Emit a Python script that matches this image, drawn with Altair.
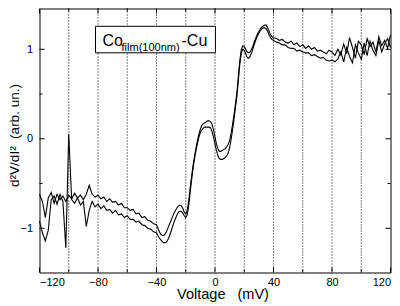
import altair as alt
import pandas as pd

# ---- data ----
x_left = list(range(-120, -40, 2))    # -120 .. -42
x_mid = list(range(-40, 41, 1))       # -40 .. 40
x_right = list(range(42, 121, 2))     # 42 .. 120

upper_left = [-0.62, -0.70, -0.88, -0.66, -0.60, -0.72, -0.62, -0.68, -0.64, -0.70,
              -0.63, -0.67, -0.61, -0.66, -0.63, -0.68, -0.62, -0.52, -0.62, -0.65,
              -0.63, -0.67, -0.65, -0.70, -0.67, -0.71, -0.70, -0.74, -0.72, -0.77,
              -0.77, -0.80, -0.79, -0.84, -0.83, -0.88, -0.87, -0.91, -0.92, -0.95]
lower_left = [-0.92, -1.05, -1.14, -1.02, -0.68, -0.64, -0.73, -0.62, -0.70, -1.22,
              0.05, -0.68, -0.72, -0.66, -0.74, -0.70, -0.98, -0.80, -0.70, -0.76,
              -0.73, -0.78, -0.75, -0.80, -0.79, -0.83, -0.80, -0.85, -0.84, -0.88,
              -0.86, -0.90, -0.90, -0.93, -0.92, -0.96, -0.97, -1.00, -1.01, -1.04]

upper_mid = [-0.96, -1.00, -1.04, -1.07, -1.08, -1.08, -1.06, -1.03, -0.99, -0.95,
             -0.91, -0.87, -0.83, -0.80, -0.77, -0.75, -0.74, -0.75, -0.78, -0.82,
             -0.84, -0.80, -0.70, -0.55, -0.42, -0.30, -0.20, -0.10, -0.02, 0.05,
             0.11, 0.15, 0.17, 0.18, 0.19, 0.20, 0.20, 0.19, 0.16, 0.10,
             0.02, -0.06, -0.11, -0.14, -0.14, -0.13, -0.12, -0.11, -0.09, -0.06,
             -0.02, 0.06, 0.16, 0.27, 0.39, 0.52, 0.70, 0.88, 1.00, 1.04,
             1.03, 1.00, 0.97, 0.96, 0.97, 1.00, 1.04, 1.09, 1.13, 1.17,
             1.20, 1.23, 1.25, 1.26, 1.27, 1.27, 1.24, 1.20, 1.16, 1.14,
             1.13]
lower_mid = [-1.05, -1.08, -1.11, -1.13, -1.15, -1.16, -1.16, -1.15, -1.12, -1.08,
             -1.03, -0.98, -0.93, -0.89, -0.85, -0.82, -0.81, -0.81, -0.83, -0.86,
             -0.88, -0.85, -0.75, -0.60, -0.46, -0.33, -0.22, -0.13, -0.05, 0.02,
             0.07, 0.10, 0.12, 0.13, 0.13, 0.13, 0.13, 0.12, 0.08, 0.02,
             -0.06, -0.13, -0.19, -0.22, -0.23, -0.23, -0.22, -0.21, -0.19, -0.16,
             -0.10, -0.01, 0.10, 0.22, 0.35, 0.48, 0.66, 0.84, 0.96, 1.00,
             0.99, 0.95, 0.91, 0.90, 0.92, 0.96, 1.01, 1.06, 1.11, 1.15,
             1.18, 1.21, 1.23, 1.24, 1.24, 1.23, 1.20, 1.16, 1.13, 1.11,
             1.10]

upper_right = [1.12, 1.10, 1.11, 1.08, 1.07, 1.09, 1.05, 1.07, 1.03, 1.05,
               1.01, 1.04, 1.00, 1.02, 0.98, 0.99, 0.97, 0.95, 0.99, 0.97,
               0.93, 1.00, 0.94, 1.06, 0.95, 1.13, 1.02, 0.90, 1.09, 1.05,
               0.94, 1.12, 1.03, 1.08, 0.97, 1.14, 1.04, 1.10, 1.01, 1.16]
lower_right = [1.08, 1.07, 1.05, 1.05, 1.02, 1.01, 1.01, 0.98, 0.99, 0.97,
               0.96, 0.96, 0.93, 0.94, 0.92, 0.90, 0.91, 0.88, 0.87, 0.88,
               0.86, 0.89, 0.97, 0.86, 1.02, 0.92, 0.85, 1.05, 0.96, 0.89,
               1.07, 0.93, 1.09, 0.99, 0.93, 1.10, 0.97, 1.06, 1.12, 1.02]

x_ticks = [-120, -80, -40, 0, 40, 80, 120]
x_minor = [-100, -60, -20, 20, 60, 100]
grid_x = [-100, -80, -60, -40, -20, 0, 20, 40, 60, 80, 100]
y_ticks = [-1, 0, 1]
y_minor = [-0.5, 0.5]

x_title = "Voltage\u00a0\u00a0\u00a0(mV)"
y_title = "d²V/dI²\u00a0\u00a0(arb. un.)"

# ---- build table ----
voltage = x_left + x_mid + x_right
upper = upper_left + upper_mid + upper_right
lower = lower_left + lower_mid + lower_right
n = len(voltage)
df = pd.DataFrame({
    "V": voltage + voltage,
    "y": upper + lower,
    "series": ["a"] * n + ["b"] * n,
})

W, H = 351, 264
FONT = "Liberation Sans"
xs = alt.Scale(domain=[-120, 120], nice=False, zero=False)
ys = alt.Scale(domain=[-1.494, 1.456], nice=False, zero=False)

x_axis = alt.Axis(
    values=x_ticks, ticks=False, tickSize=0, domain=False, grid=False,
    labelFontSize=11, labelPadding=4, labelColor="black", labelFont=FONT,
    title=x_title, titleFontSize=14.5, titleFontWeight="normal", titleFont=FONT,
    titleColor="black", titleX=183, titleY=25.5, titleBaseline="alphabetic")
y_axis = alt.Axis(
    values=y_ticks, ticks=False, tickSize=0, domain=False, grid=False,
    labelFontSize=11, labelPadding=7, labelColor="black", labelFont=FONT,
    title=y_title, titleFontSize=13.5, titleFontWeight="normal", titleFont=FONT,
    titleColor="black", titleX=-25, titleY=126.5, titleAngle=-90,
    titleBaseline="middle", titleAlign="center")


def X(field):
    return alt.X(field, scale=xs, axis=x_axis)


def Y(field):
    return alt.Y(field, scale=ys, axis=y_axis)


grid = alt.Chart(pd.DataFrame({"g": grid_x})).mark_rule(
    color="black", strokeDash=[1, 2], strokeWidth=1
).encode(x=X("g:Q"))


def yticks(vals, x1, x2):
    return alt.Chart(pd.DataFrame({"t": vals})).mark_rule(color="black", strokeWidth=1).encode(
        y=Y("t:Q"), x=alt.value(x1), x2=alt.value(x2))


def xticks(vals, y1, y2):
    return alt.Chart(pd.DataFrame({"t": vals})).mark_rule(color="black", strokeWidth=1).encode(
        x=X("t:Q"), y=alt.value(y1), y2=alt.value(y2))


ticks = [
    yticks(y_ticks, 0, 5), yticks(y_minor, 0, 3),
    yticks(y_ticks, W, W - 5), yticks(y_minor, W, W - 3),
    xticks(x_ticks, H, H - 5), xticks(x_minor, H, H - 3),
    xticks(x_ticks, 0, 5), xticks(x_minor, 0, 3),
]

lines = alt.Chart(df).mark_line(color="black", strokeWidth=1.1).encode(
    x=X("V:Q"), y=Y("y:Q"), detail="series:N")

box = alt.Chart(pd.DataFrame({"x1": [-81.7], "x2": [0.3], "y1": [1.257], "y2": [0.961]})).mark_rect(
    fill="white", stroke="black", strokeWidth=1
).encode(x=X("x1:Q"), x2="x2", y=Y("y1:Q"), y2="y2")


def label(xv, yv, txt, fs):
    return alt.Chart(pd.DataFrame({"x": [xv], "y": [yv], "txt": [txt]})).mark_text(
        align="left", baseline="alphabetic", color="black", fill="black", font=FONT, fontSize=fs
    ).encode(x=X("x:Q"), y=Y("y:Q"), text="txt:N")


labels = [
    label(-76.9, 1.035, "Co", 16),
    label(-63.9, 0.985, "film(100nm)", 11),
    label(-22.9, 1.035, "-Cu", 16),
]

chart = alt.layer(grid, *ticks, lines, box, *labels).properties(
    width=W, height=H,
    autosize=alt.AutoSizeParams(type="none"),
    padding={"left": 31.5, "top": 0.5, "right": 1, "bottom": 30.5},
).configure(font=FONT).configure_view(stroke="black", strokeWidth=1)

chart.save("out.html", embed_options={"renderer": "svg", "actions": False})
